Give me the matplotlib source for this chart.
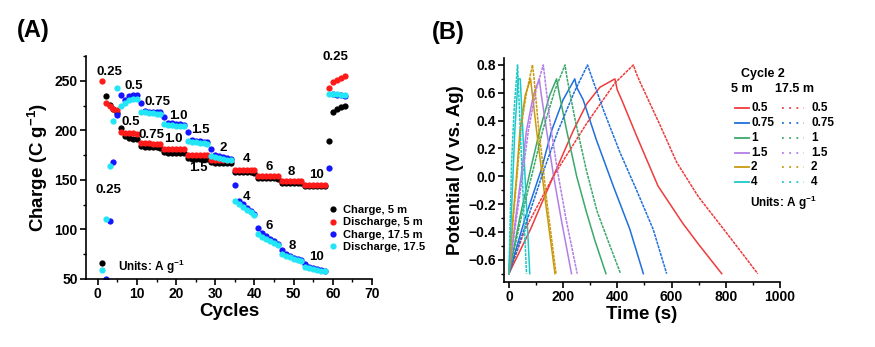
import matplotlib.pyplot as plt
import numpy as np
from matplotlib.lines import Line2D
from matplotlib.ticker import MultipleLocator

plt.rcParams['font.family'] = ['Liberation Sans', 'DejaVu Sans']
plt.rcParams['font.weight'] = 'bold'
plt.rcParams['axes.labelweight'] = 'bold'
plt.rcParams['mathtext.fontset'] = 'custom'
plt.rcParams['mathtext.rm'] = 'Liberation Sans:bold'
plt.rcParams['mathtext.bf'] = 'Liberation Sans:bold'
plt.rcParams['mathtext.it'] = 'Liberation Sans:bold'
plt.rcParams['mathtext.default'] = 'rm'

# ---- (A) rate capability, charge per cycle ----
cycles = np.arange(1, 64)
charge_5m = [66, 235, 226, 222, 217,
             202, 194, 192, 191, 191,
             184, 183, 183, 183, 183, 182,
             178, 177, 177, 177, 177, 177,
             172, 171, 171, 171, 171, 171,
             168, 167, 167, 167, 167, 167,
             158, 158, 158, 158, 158, 157,
             152, 152, 152, 152, 152, 151,
             147, 147, 147, 147, 147, 147,
             144, 144, 144, 144, 144, 144,
             189, 218, 222, 224, 225]
discharge_5m = [250, 228, 225, 222, 221,
                198, 197, 197, 197, 196,
                187, 187, 187, 186, 186, 186,
                181, 181, 181, 181, 181, 181,
                175, 175, 175, 175, 175, 175,
                170, 170, 170, 170, 170, 170,
                160, 160, 160, 160, 160, 160,
                154, 154, 154, 154, 154, 154,
                149, 149, 149, 149, 149, 149,
                145, 145, 145, 145, 145, 145,
                243, 249, 251, 253, 255]
charge_17m = [np.nan, 50, 109, 168, 215,
              236, 231, 235, 236, 236,
              228, 220, 219, 219, 218, 218,
              213, 207, 207, 206, 206, 205,
              198, 190, 189, 189, 188, 188,
              181, 175, 174, 173, 172, 171,
              145, 129, 126, 122, 119, 116,
              101, 96, 93, 90, 88, 85,
              79, 75, 73, 71, 70, 69,
              65, 62, 61, 60, 59, 58,
              162, 237, 236, 236, 235]
discharge_17m = [59, 111, 164, 209, 243,
                 225, 228, 231, 232, 232,
                 218, 218, 217, 217, 216, 216,
                 206, 205, 205, 204, 204, 204,
                 189, 188, 188, 187, 187, 186,
                 174, 173, 172, 171, 170, 170,
                 129, 126, 123, 120, 118, 115,
                 95, 92, 90, 88, 86, 84,
                 75, 73, 72, 70, 69, 68,
                 62, 61, 60, 59, 58, 58,
                 237, 237, 237, 236, 236]

# current density labels (A g-1) and where they sit
rate_labels = ['0.25', '0.5', '0.75', '1.0', '1.5', '2', '4', '6', '8', '10',
               '0.5', '0.75', '1.0', '1.5', '0.25', '4', '6', '8', '10', '0.25']
rate_x = [3.1, 9.3, 15.3, 20.5, 26.3, 32, 38, 43.8, 49.4, 55.8,
          8.4, 13.8, 19.3, 25.7, 2.6, 38, 43.8, 49.7, 55.9, 60.6]
rate_y = [259, 245, 228.5, 214, 200.5, 182.6, 171, 162.8, 157.7, 155,
          208, 195.5, 191, 162, 140, 132.5, 103, 83.3, 72, 274]

# ---- (B) galvanostatic charge/discharge, cycle 2 ----
rates = ['0.5', '0.75', '1', '1.5', '2', '4']
colors = ['#ef3b3b', '#1f6fdc', '#3aa86a', '#b27ee6', '#c99a0e', '#1ec8c8']

t_5m_05 = [0, 80, 164, 238, 287, 336, 391, 400, 416, 471, 550, 642, 700, 785]
v_5m_05 = [-0.70, -0.38, 0.00, 0.33, 0.52, 0.64, 0.70, 0.62, 0.55, 0.29, -0.07, -0.34, -0.49, -0.70]
t_17m_05 = [0, 60, 164, 287, 391, 459, 470, 483, 557, 619, 700, 800, 918]
v_17m_05 = [-0.70, -0.38, 0.00, 0.38, 0.67, 0.80, 0.74, 0.68, 0.37, 0.10, -0.15, -0.40, -0.70]

t_5m_075 = [0, 60, 120, 158, 200, 243, 250, 274, 323, 385, 446, 496]
v_5m_075 = [-0.70, -0.30, 0.05, 0.33, 0.55, 0.70, 0.64, 0.55, 0.26, -0.07, -0.38, -0.70]
t_17m_075 = [0, 70, 130, 182, 240, 290, 299, 348, 410, 471, 532, 582]
v_17m_075 = [-0.70, -0.30, 0.05, 0.33, 0.60, 0.80, 0.75, 0.48, 0.17, -0.10, -0.38, -0.70]

t_5m_1 = [0, 40, 80, 114, 150, 176, 185, 213, 250, 285, 317, 358]
v_5m_1 = [-0.70, -0.30, 0.05, 0.33, 0.58, 0.70, 0.60, 0.33, 0.00, -0.25, -0.46, -0.70]
t_17m_1 = [0, 45, 90, 125, 170, 207, 215, 245, 285, 325, 365, 412]
v_17m_1 = [-0.70, -0.30, 0.05, 0.33, 0.62, 0.80, 0.70, 0.40, 0.05, -0.25, -0.46, -0.70]

t_5m_15 = [0, 25, 45, 65, 90, 112, 120, 139, 165, 195, 231]
v_5m_15 = [-0.70, -0.30, 0.00, 0.33, 0.58, 0.70, 0.58, 0.33, 0.00, -0.33, -0.70]
t_17m_15 = [0, 28, 50, 72, 100, 127, 133, 151, 180, 212, 252]
v_17m_15 = [-0.70, -0.30, 0.00, 0.33, 0.62, 0.80, 0.70, 0.40, 0.03, -0.32, -0.70]

t_5m_2 = [0, 15, 28, 41, 60, 80, 102, 136, 170]
v_5m_2 = [-0.70, -0.30, 0.00, 0.33, 0.58, 0.70, 0.33, -0.20, -0.70]
t_17m_2 = [0, 16, 30, 45, 65, 87, 92, 108, 140, 174]
v_17m_2 = [-0.70, -0.30, 0.00, 0.35, 0.60, 0.80, 0.72, 0.38, -0.18, -0.70]

t_5m_4 = [0, 22, 34, 42, 77]
v_5m_4 = [-0.70, 0.33, 0.70, 0.70, -0.70]
t_17m_4 = [0, 10, 20, 32, 45, 65]
v_17m_4 = [-0.70, 0.10, 0.50, 0.80, 0.20, -0.70]

curves_5m = [(t_5m_05, v_5m_05), (t_5m_075, v_5m_075), (t_5m_1, v_5m_1),
             (t_5m_15, v_5m_15), (t_5m_2, v_5m_2), (t_5m_4, v_5m_4)]
curves_17m = [(t_17m_05, v_17m_05), (t_17m_075, v_17m_075), (t_17m_1, v_17m_1),
              (t_17m_15, v_17m_15), (t_17m_2, v_17m_2), (t_17m_4, v_17m_4)]

W, H = 875, 347
fig = plt.figure(figsize=(W / 100, H / 100), dpi=100)


def style_axes(ax):
    for s in ['top', 'right']:
        ax.spines[s].set_visible(False)
    for s in ['left', 'bottom']:
        ax.spines[s].set_linewidth(1.2)
    ax.tick_params(which='major', direction='out', length=4, width=1.2,
                   labelsize=10, pad=2)
    ax.tick_params(which='minor', direction='out', length=2.5, width=1.0)
    for lab in ax.get_xticklabels() + ax.get_yticklabels():
        lab.set_fontweight('bold')


# panel A
axA = fig.add_axes([86 / W, 1 - 279 / H, 286 / W, 223 / H])
axA.plot(cycles, charge_5m, 'o', color='black', ms=4.5, mec='none', label='Charge, 5 m')
axA.plot(cycles, discharge_5m, 'o', color='#ff1a1a', ms=4.5, mec='none', label='Discharge, 5 m')
axA.plot(cycles, charge_17m, 'o', color='#1515ff', ms=4.5, mec='none', label='Charge, 17.5 m')
axA.plot(cycles, discharge_17m, 'o', color='#22e5f5', ms=4.5, mec='none', label='Discharge, 17.5')
axA.set_xlim(-3, 70)
axA.set_ylim(50, 275)
axA.xaxis.set_major_locator(MultipleLocator(10))
axA.xaxis.set_minor_locator(MultipleLocator(5))
axA.yaxis.set_major_locator(MultipleLocator(50))
axA.yaxis.set_minor_locator(MultipleLocator(25))
axA.set_yticks([50, 100, 150, 200, 250])
style_axes(axA)
axA.set_xlabel('Cycles', fontsize=13.5, labelpad=1)
axA.set_ylabel('Charge (C g$^{-1}$)', fontsize=13.5, labelpad=3)

for lab, x, y in zip(rate_labels, rate_x, rate_y):
    axA.text(x, y, lab, ha='center', va='center', fontsize=9.5, fontweight='bold')
axA.text(5.2, 62.5, 'Units: A g$^{-1}$', ha='left', va='center', fontsize=8.5, fontweight='bold')

axA.legend(loc='upper left', bbox_to_anchor=(329 / W, 1 - 205 / H),
           bbox_transform=fig.transFigure, frameon=False,
           handlelength=0.8, handletextpad=0.5, borderpad=0, borderaxespad=0,
           labelspacing=0.22, prop={'weight': 'bold', 'size': 8})

fig.text(17 / W, 1 - 31 / H, '(A)', fontsize=17, fontweight='bold', va='center')

# panel B
axB = fig.add_axes([504 / W, 1 - 282 / H, 276 / W, 224 / H])
for (t, v), c in zip(curves_5m, colors):
    axB.plot(t, v, color=c, lw=1.1)
for (t, v), c in zip(curves_17m, colors):
    axB.plot(t, v, color=c, lw=1.1, ls=(0, (2, 0.6)))
axB.set_xlim(-18, 1000)
axB.set_ylim(-0.76, 0.85)
axB.xaxis.set_major_locator(MultipleLocator(200))
axB.xaxis.set_minor_locator(MultipleLocator(100))
axB.yaxis.set_minor_locator(MultipleLocator(0.1))
yt = np.round(np.arange(-0.6, 0.81, 0.2), 1)
axB.set_yticks(yt)
axB.set_yticklabels([f'{v:.1f}'.replace('-', '\u2212') for v in yt])
style_axes(axB)
axB.set_xlabel('Time (s)', fontsize=13.5, labelpad=1)
axB.set_ylabel('Potential (V vs. Ag)', fontsize=13.5, labelpad=3)

fig.text(432 / W, 1 - 33 / H, '(B)', fontsize=17, fontweight='bold', va='center')

# two-column legend for panel B
fig.text(763 / W, 1 - 74 / H, 'Cycle 2', ha='center', va='center', fontsize=9, fontweight='bold')
fig.text(731 / W, 1 - 89 / H, '5 m', ha='left', va='center', fontsize=9, fontweight='bold')
fig.text(775 / W, 1 - 89 / H, '17.5 m', ha='left', va='center', fontsize=9, fontweight='bold')
row_y = [108.3, 123.3, 137.7, 152.7, 166.7, 181.7]
for lab, c, y in zip(rates, colors, row_y):
    yf = 1 - y / H
    fig.add_artist(Line2D([735 / W, 749 / W], [yf, yf], color=c, lw=1.3,
                          transform=fig.transFigure))
    fig.text(751 / W, yf, lab, ha='left', va='center', fontsize=8.5, fontweight='bold')
    fig.add_artist(Line2D([782 / W, 804 / W], [yf, yf], color=c, lw=1.3,
                          ls=(0, (1, 3)), transform=fig.transFigure))
    fig.text(811 / W, yf, lab, ha='left', va='center', fontsize=8.5, fontweight='bold')
fig.text(750 / W, 1 - 203 / H, 'Units: A g$^{-1}$', ha='left', va='center',
         fontsize=8.5, fontweight='bold')

fig.savefig('out.png', dpi=100)
